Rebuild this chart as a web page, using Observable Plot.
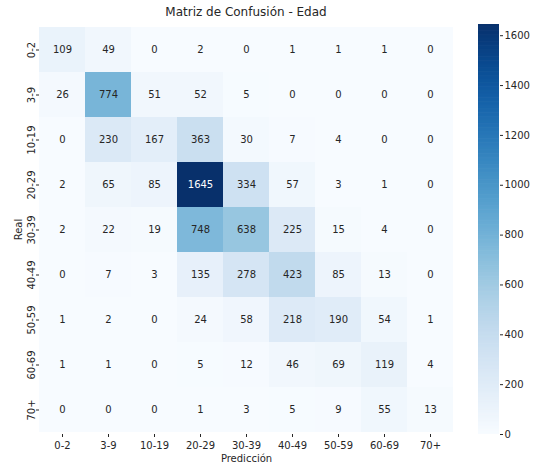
<!DOCTYPE html>
<html>
<head>
<meta charset="utf-8">
<script src="https://cdn.jsdelivr.net/npm/d3@7"></script>
<script src="https://cdn.jsdelivr.net/npm/@observablehq/plot@0.6"></script>
<style>
  html, body { margin: 0; padding: 0; background: #fff; }
  #wrap { position: relative; width: 534px; height: 466px; font-family: "DejaVu Sans", sans-serif; }
  #title { position: absolute; left: 39px; width: 414px; top: 5px; text-align: center; font-size: 12px; color: #262626; }
  #main { position: absolute; left: 0; top: 0; }
  #cbar { position: absolute; left: 470px; top: 0; }
</style>
</head>
<body>
<div id="wrap">
  <div id="main"></div>
  <div id="cbar"></div>
  <div id="title">Matriz de Confusión - Edad</div>
</div>
<script>
const labels = ["0-2", "3-9", "10-19", "20-29", "30-39", "40-49", "50-59", "60-69", "70+"];
const row0_2   = [109, 49, 0, 2, 0, 1, 1, 1, 0];
const row3_9   = [26, 774, 51, 52, 5, 0, 0, 0, 0];
const row10_19 = [0, 230, 167, 363, 30, 7, 4, 0, 0];
const row20_29 = [2, 65, 85, 1645, 334, 57, 3, 1, 0];
const row30_39 = [2, 22, 19, 748, 638, 225, 15, 4, 0];
const row40_49 = [0, 7, 3, 135, 278, 423, 85, 13, 0];
const row50_59 = [1, 2, 0, 24, 58, 218, 190, 54, 1];
const row60_69 = [1, 1, 0, 5, 12, 46, 69, 119, 4];
const row70    = [0, 0, 0, 1, 3, 5, 9, 55, 13];
const rows = [row0_2, row3_9, row10_19, row20_29, row30_39, row40_49, row50_59, row60_69, row70];
const cbTicks = [0, 200, 400, 600, 800, 1000, 1200, 1400, 1600];

const table = [];
rows.forEach((r, i) => r.forEach((v, j) => table.push({real: labels[i], pred: labels[j], value: v})));
const vmax = d3.max(table, d => d.value);
const colorOpts = {type: "linear", scheme: "blues", domain: [0, vmax]};
const textColor = d => {
  const c = d3.rgb(d3.interpolateBlues(d.value / vmax));
  const lum = (0.2126 * c.r + 0.7152 * c.g + 0.0722 * c.b) / 255;
  return lum < 0.35 ? "#ffffff" : "#262626";
};

const main = Plot.plot({
  width: 470,
  height: 466,
  marginLeft: 39,
  marginRight: 17,
  marginTop: 24,
  marginBottom: 32,
  style: {fontFamily: "DejaVu Sans, sans-serif", fontSize: "10px", color: "#262626", background: "transparent"},
  x: {domain: labels, padding: 0},
  y: {domain: labels, padding: 0},
  color: colorOpts,
  marks: [
    Plot.cell(table, {x: "pred", y: "real", fill: "value", inset: 0}),
    Plot.text(table, {x: "pred", y: "real", text: d => String(d.value), fill: textColor, fontSize: 10}),
    Plot.axisX({label: "Predicción", labelAnchor: "center", labelOffset: 27, tickSize: 3, tickPadding: 4}),
    Plot.axisY({label: "Real", labelAnchor: "center", labelOffset: 25, tickSize: 3, tickPadding: 2, tickRotate: -90})
  ]
});
document.getElementById("main").appendChild(main);

const stripeStep = vmax / 300;
const stripes = d3.range(0, vmax, stripeStep);
const cbar = Plot.plot({
  width: 64,
  height: 466,
  marginLeft: 8,
  marginRight: 35,
  marginTop: 24,
  marginBottom: 32,
  style: {fontFamily: "DejaVu Sans, sans-serif", fontSize: "10px", color: "#262626", background: "transparent"},
  y: {domain: [0, vmax]},
  color: colorOpts,
  marks: [
    Plot.rect(stripes, {y1: d => d, y2: d => Math.min(vmax, d + stripeStep * 1.5), fill: d => d}),
    Plot.axisY({anchor: "right", ticks: cbTicks, tickFormat: d => String(d), tickSize: 3, tickPadding: 2, label: null})
  ]
});
document.getElementById("cbar").appendChild(cbar);
</script>
</body>
</html>
